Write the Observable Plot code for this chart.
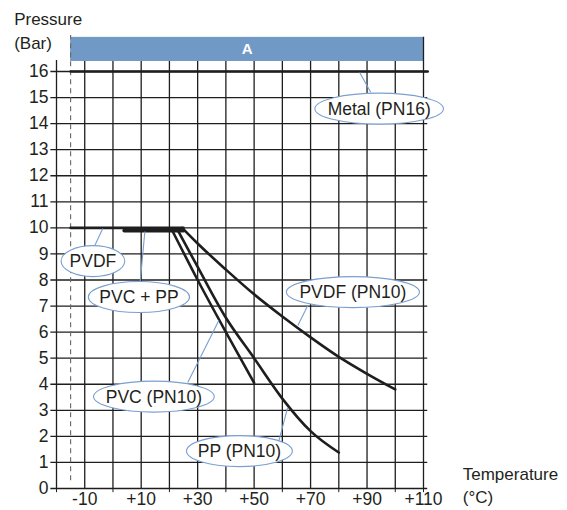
<!DOCTYPE html>
<html>
<head>
<meta charset="utf-8">
<script src="https://cdn.jsdelivr.net/npm/d3@7"></script>
<script src="https://cdn.jsdelivr.net/npm/@observablehq/plot@0.6"></script>
<style>
  html, body { margin: 0; padding: 0; background: #fff; }
</style>
</head>
<body>
<script>
// ---- data ----
const xTickValues = [-10, 10, 30, 50, 70, 90, 110];
const xTickLabels = ["-10", "+10", "+30", "+50", "+70", "+90", "+110"];
const yTickValues = [0, 1, 2, 3, 4, 5, 6, 7, 8, 9, 10, 11, 12, 13, 14, 15, 16];
const xGridValues = [-10, 0, 10, 20, 30, 40, 50, 60, 70, 80, 90, 100];
const xMinorTicks = [-20, 0, 20, 40, 60, 80, 100, 110];

const metalT = [-15, 111.5];
const metalP = [16, 16];
const pvdfFlatT = [-15, 25];
const pvdfFlatP = [10, 10];
const pvdfT = [24.5, 30, 40, 50, 60, 70, 80, 90, 100];
const pvdfP = [10, 9.4, 8.4, 7.45, 6.6, 5.8, 5.05, 4.4, 3.8];
const pvcppT = [4, 25];
const pvcppP = [9.9, 9.9];
const pvcT = [21, 30, 40, 50];
const pvcP = [9.9, 8.0, 6.0, 4.05];
const ppT = [23, 30, 40, 50, 60, 70, 80];
const ppP = [9.9, 8.5, 6.55, 5.0, 3.45, 2.2, 1.38];

const calloutLabels = ["Metal (PN16)", "PVDF", "PVC + PP", "PVC (PN10)", "PP (PN10)", "PVDF (PN10)"];
const calloutT = [94.3, -7.1, 9.2, 14.5, 44.8, 85];
const calloutP = [14.56, 8.71, 7.33, 3.51, 1.42, 7.52];
const leaderT1 = [87.4, -3.6, 11.3, 26.5, 58.8, 69];
const leaderP1 = [15.96, 9.98, 9.86, 4.07, 1.84, 7.02];
const leaderT2 = [91.3, -7.1, 9.6, 37.5, 61.9, 65.5];
const leaderP2 = [15.2, 9.17, 7.87, 6.45, 3.11, 6.25];

// ---- tables ----
const toRows = (name, ts, ps) => ts.map((t, i) => ({series: name, t, p: ps[i]}));
const curves = [
  ...toRows("PVDF", pvdfT, pvdfP),
  ...toRows("PVC", pvcT, pvcP),
  ...toRows("PP", ppT, ppP)
];
const flats = [
  ...toRows("Metal", metalT, metalP),
  ...toRows("PVDF flat", pvdfFlatT, pvdfFlatP)
];
const pvcpp = toRows("PVC+PP", pvcppT, pvcppP);
const callouts = calloutLabels.map((label, i) => ({
  label, t: calloutT[i], p: calloutP[i],
  t1: leaderT1[i], p1: leaderP1[i], t2: leaderT2[i], p2: leaderP2[i]
}));

const ink = "#1e1e1e";
const blue = "#7199c6";
const calloutBlue = "#7a9fd0";
const font = "'Liberation Sans', Arial, Helvetica, sans-serif";

const svg = Plot.plot({
  width: 567,
  height: 510,
  marginLeft: 56,
  marginRight: 144,
  marginTop: 71,
  marginBottom: 22,
  x: {domain: [-20, 110]},
  y: {domain: [0, 16]},
  style: {fontFamily: font, color: "#231f20", background: "#fff", overflow: "visible"},
  marks: [
    // header band
    Plot.rect([0], {x1: -15, x2: 110, y1: 16.385, y2: 17.31, fill: blue}),
    Plot.text(["A"], {x: 47.5, y: 16.85, fill: "#fff", fontWeight: "bold", fontSize: 15, lineAnchor: "middle"}),
    // horizontal grid
    Plot.ruleY(yTickValues, {x1: -22, x2: 111.5, stroke: ink, strokeWidth: 1.3}),
    // vertical grid
    Plot.ruleX(xGridValues, {y1: 0, y2: 16.385, stroke: ink, strokeWidth: 1.3}),
    Plot.ruleX([110], {y1: 0, y2: 17.31, stroke: ink, strokeWidth: 1.3}),
    Plot.ruleX([-20], {y1: 0, y2: 16.42, stroke: ink, strokeWidth: 1.3}),
    Plot.ruleX(xMinorTicks, {y1: 0, y2: -0.16, stroke: ink, strokeWidth: 1}),
    // dashed line
    Plot.ruleX([-15], {y1: 0.3, y2: 17.38, stroke: "#666", strokeWidth: 1.1, strokeDasharray: "5,4"}),
    // axes
    Plot.axisY({ticks: yTickValues, tickSize: 0, tickPadding: 8, fontSize: 17.5, anchor: "left"}),
    Plot.axisX({ticks: xTickValues, tickSize: 0, tickPadding: 4, fontSize: 17.5, anchor: "bottom",
      tickFormat: (d) => xTickLabels[xTickValues.indexOf(d)]}),
    // axis titles
    Plot.text(["Pressure"], {x: -35, y: 18.0, textAnchor: "start", lineAnchor: "middle", fontSize: 17}),
    Plot.text(["(Bar)"], {x: -35, y: 17.08, textAnchor: "start", lineAnchor: "middle", fontSize: 17}),
    Plot.text(["Temperature"], {x: 123.9, y: 0.52, textAnchor: "start", lineAnchor: "middle", fontSize: 17}),
    Plot.text(["(°C)"], {x: 123.9, y: -0.36, textAnchor: "start", lineAnchor: "middle", fontSize: 17}),
    // data lines
    Plot.line(flats, {x: "t", y: "p", z: "series", stroke: ink, strokeWidth: 2.6}),
    Plot.line(curves, {x: "t", y: "p", z: "series", stroke: ink, strokeWidth: 2.6, curve: "monotone-x"}),
    Plot.line(pvcpp, {x: "t", y: "p", stroke: ink, strokeWidth: 3.8}),
    // callout leaders
    Plot.link(callouts, {x1: "t1", y1: "p1", x2: "t2", y2: "p2", stroke: calloutBlue, strokeWidth: 1.1}),
    // callout labels
    Plot.text(callouts, {x: "t", y: "p", text: "label", fontSize: 17.5, lineAnchor: "middle", fill: "#231f20"})
  ]
});

document.body.appendChild(svg);

// ellipses behind callout labels, sized from the rendered text
const labelSet = new Set(calloutLabels);
const labelTexts = Array.from(svg.querySelectorAll("text")).filter((el) => labelSet.has(el.textContent));
if (labelTexts.length) {
  const textGroup = labelTexts[0].parentNode;
  const ellipseGroup = document.createElementNS("http://www.w3.org/2000/svg", "g");
  for (const el of labelTexts) {
    const b = el.getBBox();
    const e = document.createElementNS("http://www.w3.org/2000/svg", "ellipse");
    e.setAttribute("cx", b.x + b.width / 2);
    e.setAttribute("cy", b.y + b.height / 2);
    e.setAttribute("rx", b.width / 2 * 1.15 + 5);
    e.setAttribute("ry", 15.5);
    e.setAttribute("fill", "#fff");
    e.setAttribute("stroke", calloutBlue);
    e.setAttribute("stroke-width", 1.1);
    const tr = el.getAttribute("transform");
    if (tr) e.setAttribute("transform", tr);
    ellipseGroup.appendChild(e);
  }
  const gt = textGroup.getAttribute("transform");
  if (gt) ellipseGroup.setAttribute("transform", gt);
  textGroup.parentNode.insertBefore(ellipseGroup, textGroup);
}
</script>
</body>
</html>
